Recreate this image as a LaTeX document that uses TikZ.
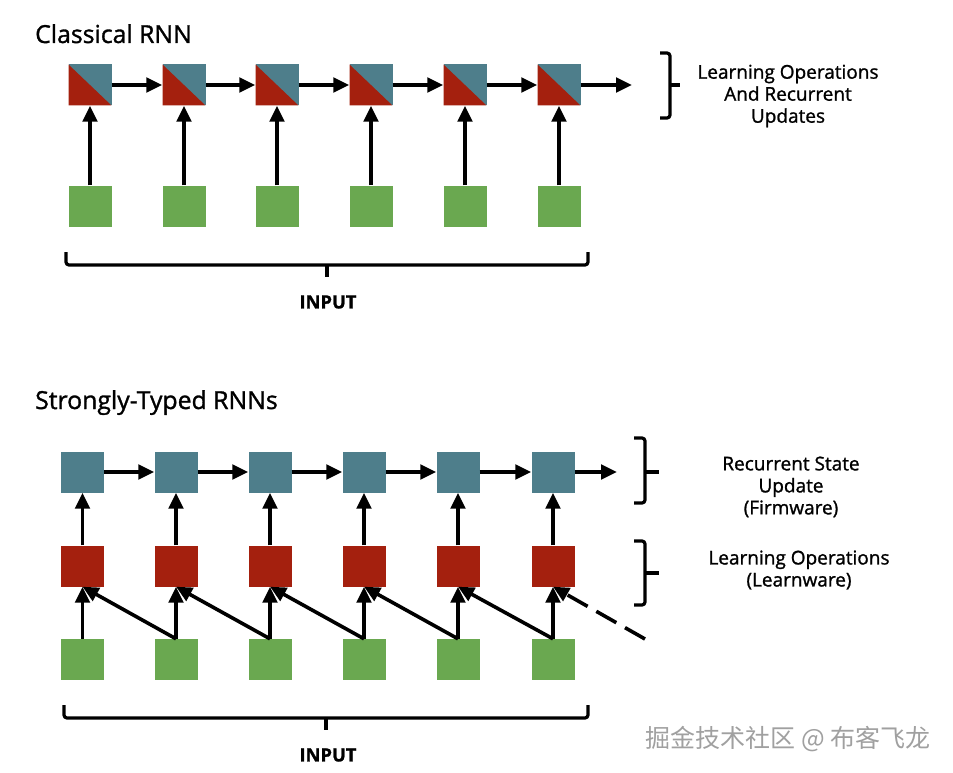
\documentclass[tikz,border=0pt]{standalone}
\usepackage{fontspec}
\setmainfont{Open Sans}[FakeBold=1.2]
\newfontfamily\cjk{Noto Sans CJK SC}
\usetikzlibrary{arrows.meta}
\definecolor{rnnblue}{RGB}{78,126,139}
\definecolor{rnnred}{RGB}{164,32,14}
\definecolor{rnngreen}{RGB}{106,168,80}
\definecolor{wmgray}{RGB}{160,160,160}
\begin{document}
\begin{tikzpicture}[x=1pt,y=-1pt,
  sq/.style={rectangle,inner sep=0pt,minimum width=43pt,minimum height=41pt},
  bluebox/.style={sq,fill=rnnblue},
  redbox/.style={sq,fill=rnnred},
  greenbox/.style={sq,fill=rnngreen},
  splitbox/.style={sq,fill=rnnblue,path picture={\fill[rnnred] (path picture bounding box.north west) -- (path picture bounding box.south west) -- (path picture bounding box.south east) -- cycle;}},
  arr/.style={line width=3.6pt,-{Triangle[length=16pt,width=14.5pt]}},
  brace/.style={line width=3.2pt,rounded corners=3pt},
  tick/.style={line width=3.2pt},
  lbl/.style={font=\fontsize{19}{22}\selectfont,align=center,inner sep=0pt},
  ttl/.style={font=\fontsize{24.8}{28}\selectfont,anchor=base west,inner sep=0pt},
  inp/.style={font=\bfseries\fontsize{18.3}{20}\selectfont,inner sep=0pt},
]
\useasboundingbox[fill=white] (0,0) rectangle (953,773);

% ---------- Classical RNN ----------
\node[ttl] (t1) at (35,43) {Classical RNN};
\foreach \i/\x in {1/90,2/184,3/277,4/371,5/465,6/559} {
  \node[splitbox] (c\i) at (\x,85) {};
  \node[greenbox] (ci\i) at (\x,206) {};
  \draw[arr] (ci\i) -- (c\i);
}
\foreach \i/\j in {1/2,2/3,3/4,4/5,5/6} {
  \draw[arr] (c\i) -- (c\j);
}
\coordinate (cend) at (632,85);
\draw[arr] (c6) -- (cend);

\draw[brace] (660,53) -| (670,118) -- (660,118);
\draw[tick] (670,85) -- (680,85);
\node[lbl] (l1) at (788,96) {Learning Operations\\And Recurrent\\Updates};

\draw[brace] (66,252) |- (588,265) -- (588,252);
\draw[tick] (327,265) -- (327,277);
\node[inp] (in1) at (328,302) {INPUT};

% ---------- Strongly-Typed RNNs ----------
\node[ttl] (t2) at (35,409) {Strongly-Typed RNNs};
\foreach \i/\x in {1/82.5,2/176,3/270,4/364,5/458,6/553} {
  \node[bluebox] (sb\i) at (\x,472) {};
  \node[redbox] (sr\i) at (\x,566) {};
  \node[greenbox] (si\i) at (\x,659.5) {};
  \draw[arr] (sr\i) -- (sb\i);
  \draw[arr] (si\i.north) -- (sr\i.south);
}
\foreach \i/\j in {1/2,2/3,3/4,4/5,5/6} {
  \draw[arr] (sb\i) -- (sb\j);
  \draw[arr] (si\j.north) -- (sr\i.south);
}
\coordinate (send) at (617,472);
\draw[arr] (sb6) -- (send);
\coordinate (dashstart) at (645,639);
\draw[arr,dash pattern=on 23pt off 10pt] (dashstart) -- (sr6.south);

\draw[brace] (634,438) -| (645,503) -- (634,503);
\draw[tick] (645,472) -- (659,472);
\node[lbl] (l2) at (791,487) {Recurrent State\\Update\\(Firmware)};

\draw[brace] (634,541) -| (645,605) -- (634,605);
\draw[tick] (645,573) -- (659,573);
\node[lbl] (l3) at (799,570) {Learning Operations\\(Learnware)};

\draw[brace] (64,705) |- (588,718) -- (588,705);
\draw[tick] (326,718) -- (326,730);
\node[inp] (in2) at (328,755) {INPUT};

\node[font=\cjk\fontsize{25}{28}\selectfont,text=wmgray,inner sep=0pt] (wm) at (788,739) {掘金技术社区 @ 布客飞龙};
\end{tikzpicture}
\end{document}
